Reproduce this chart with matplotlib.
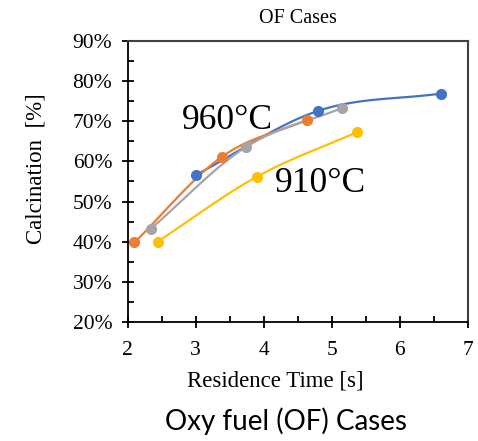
import matplotlib
matplotlib.use('Agg')
import matplotlib.pyplot as plt
from matplotlib.ticker import MultipleLocator, PercentFormatter
import numpy as np

# data (residence time [s], calcination [%])
blue_t = [3.0, 4.8, 6.6]
blue_c = [56.6, 72.6, 76.9]
orange_t = [2.1, 3.38, 4.63]
orange_c = [39.8, 61.1, 70.3]
gray_t = [2.34, 3.74, 5.15]
gray_c = [43.2, 63.6, 73.3]
yellow_t = [2.44, 3.9, 5.37]
yellow_c = [40.0, 56.2, 67.3]

series = [
    (blue_t, blue_c, '#4472C4'),
    (orange_t, orange_c, '#ED7D31'),
    (gray_t, gray_c, '#A5A5A5'),
    (yellow_t, yellow_c, '#FFC000'),
]


def smooth(x, y, n=30):
    # Catmull-Rom style smoothing like Excel's smoothed lines
    x = np.asarray(x, float)
    y = np.asarray(y, float)
    if len(x) < 3:
        return x, y
    px = np.concatenate([[2 * x[0] - x[1]], x, [2 * x[-1] - x[-2]]])
    py = np.concatenate([[2 * y[0] - y[1]], y, [2 * y[-1] - y[-2]]])
    xs, ys = [], []
    t = np.linspace(0, 1, n)
    for i in range(1, len(px) - 2):
        p0, p1, p2, p3 = (np.array([px[j], py[j]]) for j in range(i - 1, i + 3))
        c1 = p1 + (p2 - p0) / 6
        c2 = p2 - (p3 - p1) / 6
        b = ((1 - t) ** 3)[:, None] * p1 + (3 * (1 - t) ** 2 * t)[:, None] * c1 \
            + (3 * (1 - t) * t ** 2)[:, None] * c2 + (t ** 3)[:, None] * p2
        xs.append(b[:, 0])
        ys.append(b[:, 1])
    return np.concatenate(xs), np.concatenate(ys)


plt.rcParams['font.family'] = ['Liberation Serif', 'DejaVu Serif']

fig = plt.figure(figsize=(4.78, 4.41), dpi=100)
ax = fig.add_axes([0.267, 0.270, 0.712, 0.637])

for t, c, col in series:
    sx, sy = smooth(t, c)
    ax.plot(sx, sy, color=col, lw=1.6, zorder=2)
    ax.plot(t, c, 'o', color=col, ms=7, zorder=3)

ax.set_xlim(2, 7)
ax.set_ylim(20, 90)
ax.xaxis.set_major_locator(MultipleLocator(1))
ax.xaxis.set_minor_locator(MultipleLocator(0.5))
ax.yaxis.set_major_locator(MultipleLocator(10))
ax.yaxis.set_minor_locator(MultipleLocator(5))
ax.yaxis.set_major_formatter(PercentFormatter(decimals=0))
ax.tick_params(which='major', direction='inout', length=8, width=1.3, labelsize=15.5, pad=7)
ax.tick_params(axis='x', which='major', pad=10)
ax.tick_params(which='minor', direction='in', length=4, width=1.3)
ax.tick_params(top=False, right=False)
for s in ax.spines.values():
    s.set_linewidth(1.3)
for s in ['top', 'right']:
    ax.spines[s].set_color('#404040')
    ax.spines[s].set_linewidth(1.5)

ax.set_title('OF Cases', fontsize=14.5, pad=13)
ax.set_xlabel('Residence Time [s]', fontsize=16.5, va='center')
ax.xaxis.set_label_coords(0.435, -0.212)
ax.set_ylabel('Calcination  [%]', fontsize=16.5, va='center')
ax.yaxis.set_label_coords(-0.268, 0.545)

ax.text(3.46, 70.3, '960°C', fontsize=25.5, ha='center', va='center')
ax.text(4.84, 54.6, '910°C', fontsize=25.5, ha='center', va='center')

fig.text(0.598, 0.045, 'Oxy fuel (OF) Cases', fontsize=20, family=['Lato', 'DejaVu Sans'],
         ha='center', va='center')

plt.savefig('out.png', dpi=100)
